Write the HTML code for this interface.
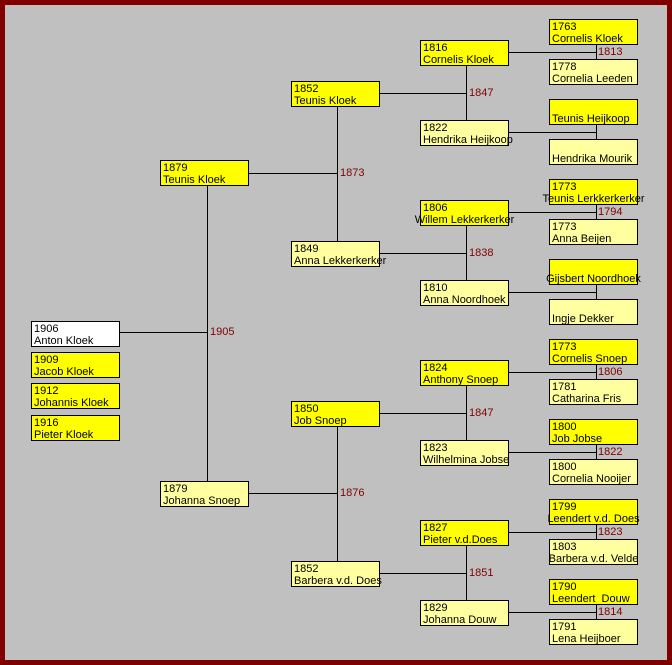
<!DOCTYPE html>
<html><head><meta charset="utf-8"><style>
body{margin:0;width:672px;height:665px;overflow:hidden;background:#800000;}
#p{position:absolute;left:5px;top:5px;width:662px;height:655px;background:#c0c0c0;}
.b{position:absolute;width:89px;height:26px;box-sizing:border-box;border:1px solid #000;font:11px/12px "Liberation Sans",sans-serif;color:#000;padding:1px 0 0 2px;white-space:nowrap;}
.m{background:#ffff00}.f{background:#ffffa0}.w{background:#fff}
.c{display:flex;flex-direction:column;align-items:center;padding:1px 0 0 0}
.l{position:absolute;font:11px/12px "Liberation Sans",sans-serif;color:#800000;}
svg{position:absolute;left:0;top:0}
</style></head><body>
<div id="p"></div>
<svg width="672" height="665"><g stroke="#000" stroke-width="1" fill="none" shape-rendering="crispEdges">
<path d="M596.5 44V59M508 52.5H596.5M596.5 124V139M508 132.5H596.5M596.5 204V219M508 212.5H596.5M596.5 284V299M508 292.5H596.5M596.5 364V379M508 372.5H596.5M596.5 444V459M508 452.5H596.5M596.5 524V539M508 532.5H596.5M596.5 604V619M508 612.5H596.5"/>
<path d="M466.5 65V120M379 93.5H466.5M466.5 225V280M379 253.5H466.5M466.5 385V440M379 413.5H466.5M466.5 545V600M379 573.5H466.5"/>
<path d="M337.5 106V241M249 173.5H337.5M337.5 426V561M249 493.5H337.5"/>
<path d="M207.5 185V481M119 332.5H207.5"/>
</g></svg>

<div class="b m" style="left:549px;top:19px">1763<br>Cornelis Kloek</div>
<div class="b f" style="left:549px;top:59px">1778<br>Cornelia Leeden</div>
<div class="b m" style="left:549px;top:99px">&nbsp;<br>Teunis Heijkoop</div>
<div class="b f" style="left:549px;top:139px">&nbsp;<br>Hendrika Mourik</div>
<div class="b m c" style="left:549px;top:179px"><span style="align-self:flex-start;padding-left:2px">1773</span><span>Teunis Lerkkerkerker</span></div>
<div class="b f" style="left:549px;top:219px">1773<br>Anna Beijen</div>
<div class="b m c" style="left:549px;top:259px"><span>&nbsp;</span><span>Gijsbert Noordhoek</span></div>
<div class="b f" style="left:549px;top:299px">&nbsp;<br>Ingje Dekker</div>
<div class="b m" style="left:549px;top:339px">1773<br>Cornelis Snoep</div>
<div class="b f" style="left:549px;top:379px">1781<br>Catharina Fris</div>
<div class="b m" style="left:549px;top:419px">1800<br>Job Jobse</div>
<div class="b f" style="left:549px;top:459px">1800<br>Cornelia Nooijer</div>
<div class="b m c" style="left:549px;top:499px"><span style="align-self:flex-start;padding-left:2px">1799</span><span>Leendert v.d. Does</span></div>
<div class="b f c" style="left:549px;top:539px"><span style="align-self:flex-start;padding-left:2px">1803</span><span>Barbera v.d. Velde</span></div>
<div class="b m" style="left:549px;top:579px">1790<br>Leendert&nbsp; Douw</div>
<div class="b f" style="left:549px;top:619px">1791<br>Lena Heijboer</div>

<div class="b m" style="left:420px;top:40px">1816<br>Cornelis Kloek</div>
<div class="b f" style="left:420px;top:120px">1822<br>Hendrika Heijkoop</div>
<div class="b m c" style="left:420px;top:200px"><span style="align-self:flex-start;padding-left:2px">1806</span><span>Willem Lekkerkerker</span></div>
<div class="b f" style="left:420px;top:280px">1810<br>Anna Noordhoek</div>
<div class="b m" style="left:420px;top:360px">1824<br>Anthony Snoep</div>
<div class="b f" style="left:420px;top:440px">1823<br>Wilhelmina Jobse</div>
<div class="b m" style="left:420px;top:520px">1827<br>Pieter v.d.Does</div>
<div class="b f" style="left:420px;top:600px">1829<br>Johanna Douw</div>

<div class="b m" style="left:291px;top:81px">1852<br>Teunis Kloek</div>
<div class="b f" style="left:291px;top:241px">1849<br>Anna Lekkerkerker</div>
<div class="b m" style="left:291px;top:401px">1850<br>Job Snoep</div>
<div class="b f" style="left:291px;top:561px">1852<br>Barbera v.d. Does</div>

<div class="b m" style="left:160px;top:160px">1879<br>Teunis Kloek</div>
<div class="b f" style="left:160px;top:481px">1879<br>Johanna Snoep</div>

<div class="b w" style="left:31px;top:321px">1906<br>Anton Kloek</div>
<div class="b m" style="left:31px;top:352px">1909<br>Jacob Kloek</div>
<div class="b m" style="left:31px;top:383px">1912<br>Johannis Kloek</div>
<div class="b m" style="left:31px;top:415px">1916<br>Pieter Kloek</div>

<div class="l" style="left:598px;top:46px">1813</div>
<div class="l" style="left:598px;top:206px">1794</div>
<div class="l" style="left:598px;top:366px">1806</div>
<div class="l" style="left:598px;top:446px">1822</div>
<div class="l" style="left:598px;top:526px">1823</div>
<div class="l" style="left:598px;top:606px">1814</div>
<div class="l" style="left:469px;top:87px">1847</div>
<div class="l" style="left:469px;top:247px">1838</div>
<div class="l" style="left:469px;top:407px">1847</div>
<div class="l" style="left:469px;top:567px">1851</div>
<div class="l" style="left:340px;top:167px">1873</div>
<div class="l" style="left:340px;top:487px">1876</div>
<div class="l" style="left:210px;top:326px">1905</div>
</body></html>
